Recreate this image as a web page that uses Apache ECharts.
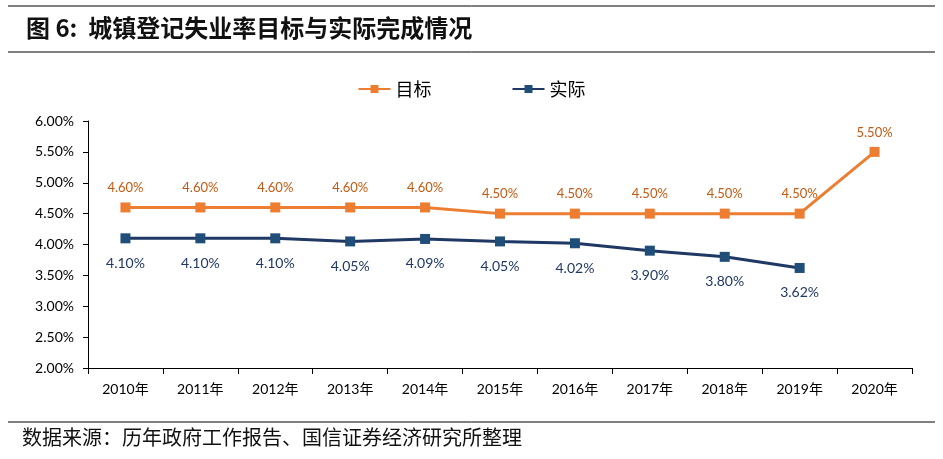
<!DOCTYPE html>
<html><head><meta charset="utf-8">
<script src="https://cdn.jsdelivr.net/npm/echarts@6/dist/echarts.min.js"></script>
<style>html,body{margin:0;padding:0;background:#fff}#c{width:943px;height:459px}</style>
</head><body><div id="c"></div>
<script>
const categories = ['2010年','2011年','2012年','2013年','2014年','2015年','2016年','2017年','2018年','2019年','2020年'];
const targetValues = [4.60,4.60,4.60,4.60,4.60,4.50,4.50,4.50,4.50,4.50,5.50];
const actualValues = [4.10,4.10,4.10,4.05,4.09,4.05,4.02,3.90,3.80,3.62,null];
const titleText = '图 6:  城镇登记失业率目标与实际完成情况';
const sourceText = '数据来源：历年政府工作报告、国信证券经济研究所整理';

const chart = echarts.init(document.getElementById('c'));
const lab = "Lato, 'Noto Sans CJK SC', sans-serif";
chart.setOption({
  animation:false,
  backgroundColor:'#fff',
  graphic:[
    {type:'line',shape:{x1:8,y1:6,x2:935,y2:6},style:{stroke:'#000',lineWidth:1}},
    {type:'line',shape:{x1:8,y1:52,x2:935,y2:52},style:{stroke:'#000',lineWidth:1}},
    {type:'text',left:26,top:16,style:{text:titleText,font:"bold 24px 'Noto Sans CJK SC', sans-serif",fill:'#111'}},
    {type:'line',shape:{x1:8,y1:422,x2:935,y2:422},style:{stroke:'#000',lineWidth:1}},
    {type:'text',left:22,top:427,style:{text:sourceText,font:"20px 'Noto Sans CJK SC', sans-serif",fill:'#111'}}
  ],
  legend:{
    top:75,left:'center',itemGap:80,itemWidth:32,itemHeight:10,
    textStyle:{fontSize:18,color:'#000',fontFamily:"'Noto Sans CJK SC', sans-serif"},
    data:['目标','实际']
  },
  grid:{left:88,right:31,top:121,bottom:91,containLabel:false},
  xAxis:{
    type:'category',data:categories,boundaryGap:true,
    axisLine:{lineStyle:{color:'#000',width:1}},
    axisTick:{show:true,length:6,lineStyle:{color:'#000'}},
    axisLabel:{color:'#000',fontSize:14,fontFamily:lab,margin:14}
  },
  yAxis:{
    type:'value',min:2,max:6,interval:0.5,
    axisLine:{show:true,lineStyle:{color:'#000',width:1}},
    axisTick:{show:true,length:5,lineStyle:{color:'#000'}},
    splitLine:{show:false},
    axisLabel:{color:'#000',fontSize:14,fontFamily:lab,margin:14,formatter:v=>v.toFixed(2)+'%'}
  },
  series:[
    {name:'目标',type:'line',data:targetValues,symbol:'rect',symbolSize:10,
     itemStyle:{color:'#ED7D31'},lineStyle:{color:'#ED7D31',width:3},
     label:{show:true,position:'top',distance:8,color:'#C65911',fontSize:13,fontFamily:lab,formatter:p=>p.value.toFixed(2)+'%'}},
    {name:'实际',type:'line',data:actualValues,symbol:'rect',symbolSize:10,connectNulls:false,
     itemStyle:{color:'#1F4E79'},lineStyle:{color:'#203864',width:3},
     label:{show:true,position:'bottom',distance:13,color:'#1F3864',fontSize:14,fontFamily:lab,formatter:p=>p.value==null?'':p.value.toFixed(2)+'%'}}
  ]
});
</script></body></html>
